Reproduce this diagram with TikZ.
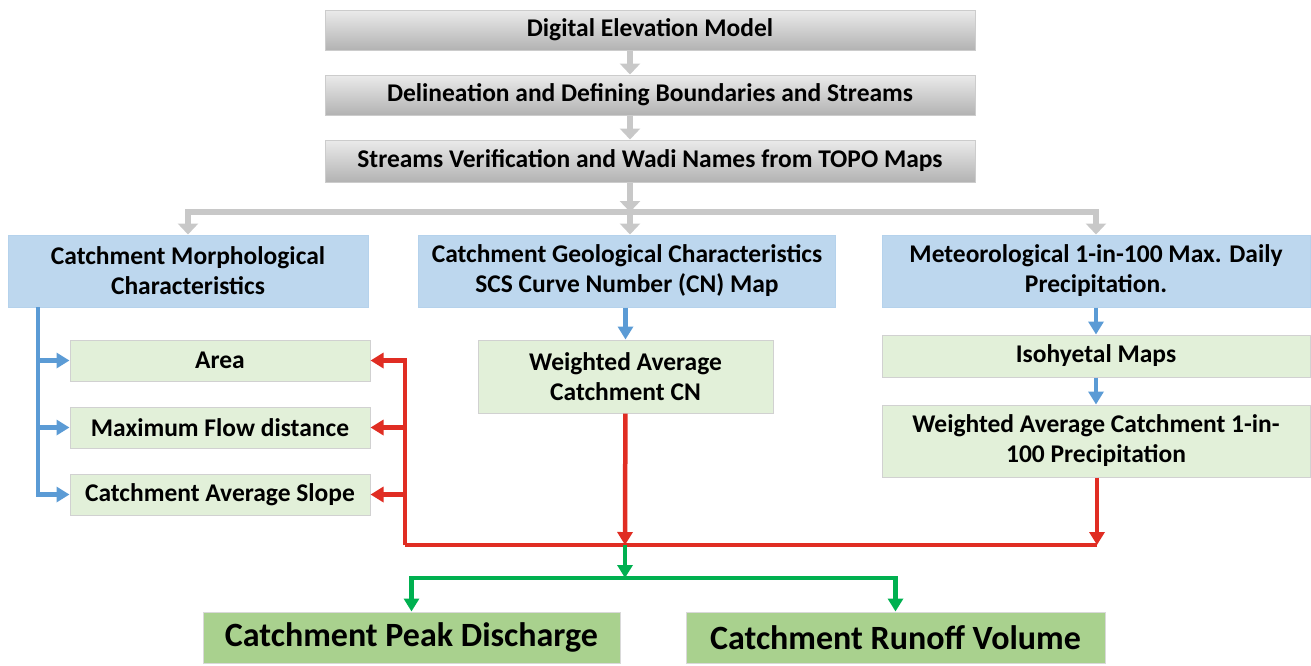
\documentclass[tikz,border=0pt]{standalone}
\usepackage{fontspec}
\setmainfont{Carlito}
\usepackage{tikz}
\usetikzlibrary{positioning, arrows.meta, calc}
\definecolor{boxblue}{RGB}{189,215,238}
\definecolor{lineblue}{RGB}{91,155,213}
\definecolor{boxgreen}{RGB}{226,240,217}
\definecolor{resgreen}{RGB}{169,209,142}
\definecolor{linegreen}{RGB}{0,176,80}
\definecolor{linered}{RGB}{224,45,35}
\definecolor{linegray}{RGB}{200,200,200}
\tikzset{base node/.style={rectangle, draw=black!20, line width=1pt, align=center, inner sep=2pt, font=\fontsize{25.5}{30}\selectfont\bfseries},
	gray node/.style={base node, top color=black!8, bottom color=black!30, minimum width=650pt, minimum height=40pt},
	blue node/.style={base node, fill=boxblue, draw=lineblue!45, minimum height=72pt},
	green node/.style={base node, fill=boxgreen, draw=black!18, minimum height=41pt},
	result node/.style={base node, fill=resgreen, draw=black!15, minimum width=417pt, minimum height=51pt, font=\fontsize{34}{38}\selectfont\bfseries},
	gray arrow/.style={draw=linegray, line width=6pt, -{Triangle[width=20pt,length=11pt]}},
	blue arrow/.style={draw=lineblue, line width=4.5pt, -{Triangle[width=15pt,length=13pt]}},
	red arrow/.style={draw=linered, line width=4.5pt, -{Triangle[width=15pt,length=13pt]}},
	green arrow/.style={draw=linegreen, line width=4.5pt, -{Triangle[width=15pt,length=13pt]}},
}

\begin{document}
\begin{tikzpicture}[x=1pt, y=-1pt]
	\useasboundingbox (0,0) rectangle (1311,665);
	% Top chain
	\node[gray node] (dem) at (650,30) {Digital Elevation Model};
	\node[gray node] (delin) at (650,95) {Delineation and Defining Boundaries and Streams};
	\node[gray node, minimum height=42pt] (verif) at (650,161) {Streams Verification and Wadi Names from TOPO Maps};
	% Characteristics
	\node[blue node, minimum width=360pt] (morph) at (188,271) {Catchment Morphological\\Characteristics};
	\node[blue node, minimum width=417pt] (geol) at (627,271) {Catchment Geological Characteristics\\SCS Curve Number (CN) Map};
	\node[blue node, minimum width=428pt] (meteo) at (1096,271) {Meteorological 1-in-100 Max. Daily\\Precipitation.};
	\node[green node, minimum width=300pt] (area) at (220,360.5) {Area};
	\node[green node, minimum width=300pt] (flow) at (220,427.5) {Maximum Flow distance};
	\node[green node, minimum width=300pt] (slope) at (220,494.5) {Catchment Average Slope};
	\node[green node, minimum width=295pt, minimum height=73pt] (wcn) at (625.5,376.5) {Weighted Average\\Catchment CN};
	\node[green node, minimum width=428pt, minimum height=42pt] (iso) at (1096,356) {Isohyetal Maps};
	\node[green node, minimum width=428pt, minimum height=72pt] (wprec) at (1096,441) {Weighted Average Catchment 1-in-\\100 Precipitation};
	% Results
	\node[result node] (peak) at (411.5,637.5) {Catchment Peak Discharge};
	\node[result node, minimum width=419pt] (runoff) at (895.5,637.5) {Catchment Runoff Volume};
	% Junctions
	\coordinate (split) at (630,212);
	\coordinate (mtap) at (38,307);
	\coordinate (rleft) at (405,545);
	\coordinate (rmid) at (625,545);
	\coordinate (rright) at (1097,545);
	\coordinate (gsplit) at (625,578);
	% Gray arrows
	\path[gray arrow] (dem.south -| split) -- (delin.north -| split);
	\path[gray arrow] (delin.south -| split) -- (verif.north -| split);
	\path[gray arrow] (verif.south -| split) -- (split);
	\path[gray arrow] (split) -| (morph.north);
	\path[gray arrow] (split) -- (split |- geol.north);
	\path[gray arrow] (split) -| (meteo.north);
	% Blue arrows
	\path[blue arrow] (mtap) |- (area.west);
	\path[blue arrow] (mtap) |- (flow.west);
	\path[blue arrow] (mtap) |- (slope.west);
	\path[blue arrow] (geol.south -| wcn) -- (wcn.north);
	\path[blue arrow] (meteo) -- (iso);
	\path[blue arrow] (iso) -- (wprec);
	% Red arrows
	\path[red arrow] (wcn) -- (rmid);
	\path[red arrow] (wprec.south -| rright) -- (rright);
	\path[draw=linered, line width=4.5pt] (rright) -- (rleft);
	\path[red arrow] (rleft) |- (area.east);
	\path[red arrow] (rleft) |- (flow.east);
	\path[red arrow] (rleft) |- (slope.east);
	% Green arrows
	\path[green arrow] (rmid) -- (gsplit);
	\path[green arrow] (gsplit) -| (peak.north);
	\path[green arrow] (gsplit) -| (runoff.north);
\end{tikzpicture}
\end{document}
